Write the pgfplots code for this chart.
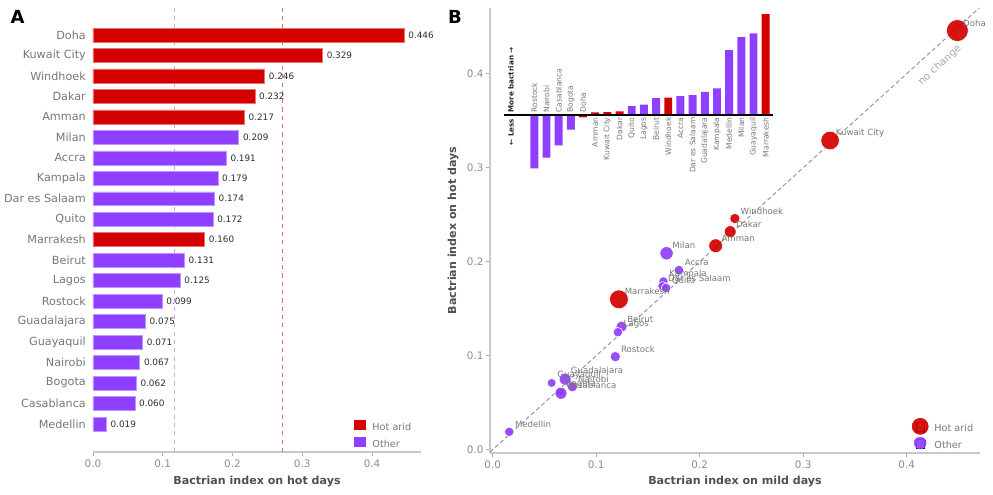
\documentclass[border=0pt]{standalone}
\usepackage{pgfplots}
\usepackage{pgfplotstable}
\pgfplotsset{compat=1.18}
\usepackage{fontspec}
\setmainfont{DejaVu Sans}

\definecolor{hotred}{RGB}{212,0,0}
\definecolor{otherpurple}{RGB}{143,63,255}
\definecolor{labelgray}{RGB}{119,119,119}
\definecolor{tickgray}{RGB}{140,140,140}
\definecolor{spinegray}{RGB}{200,200,200}
\definecolor{titlegray}{RGB}{80,80,80}
\definecolor{valuegray}{RGB}{45,45,45}
\definecolor{meanpurple}{RGB}{200,165,255}
\definecolor{meanred}{RGB}{225,110,110}
\definecolor{diaggray}{RGB}{150,150,150}

\pgfplotsset{/pgf/number format/assume math mode=true}

% ---- Panel A: index on hot days (position 19 = top row)
\pgfplotstableread{
pos hot
19 0.446
18 0.329
17 0.246
16 0.232
15 0.217
9  0.160
}\hotbars
\pgfplotstableread{
pos hot
14 0.209
13 0.191
12 0.179
11 0.174
10 0.172
8  0.131
7  0.125
6  0.099
5  0.075
4  0.071
3  0.067
2  0.062
1  0.060
0  0.019
}\otherbars

% ---- Panel B: mild vs hot days, marker radius r in bp
\pgfplotstableread{
name mild hot r
Doha 0.449 0.446 7.9
{Kuwait City} 0.326 0.329 6.7
Windhoek 0.234 0.246 3.7
Dakar 0.2295 0.232 4.3
Amman 0.2155 0.217 5.0
Marrakesh 0.122 0.160 6.8
}\hotpts
\pgfplotstableread{
name mild hot r
Milan 0.168 0.209 4.8
Accra 0.180 0.191 3.5
Kampala 0.165 0.179 3.4
{Dar es Salaam} 0.164 0.174 3.3
Quito 0.1675 0.172 3.5
Beirut 0.1245 0.131 4.0
Lagos 0.121 0.125 3.4
Rostock 0.1185 0.099 3.7
Guadalajara 0.070 0.075 4.3
Guayaquil 0.057 0.071 3.2
Nairobi 0.077 0.067 3.7
Bogota 0.065 0.062 3.4
Casablanca 0.066 0.060 4.3
Medellin 0.016 0.019 3.4
}\otherpts

% ---- Inset: change from mild to hot days, percent
\pgfplotstableread{
idx change
4 -0.7
5 0.8
6 0.9
7 1.1
11 5.3
19 30.9
}\hotchange
\pgfplotstableread{
idx change
0 -16.4
1 -13.1
2 -9.3
3 -4.5
8 2.7
9 3.2
10 5.2
12 5.8
13 6.1
14 7.1
15 8.2
16 19.9
17 23.9
18 25.0
}\otherchange
\pgfplotstableread{
idx zero name
0 0 Rostock
1 0 Nairobi
2 0 Casablanca
3 0 Bogota
4 0 Doha
}\fallnames
\pgfplotstableread{
idx zero name
5 0 Amman
6 0 {Kuwait City}
7 0 Dakar
8 0 Quito
9 0 Lagos
10 0 Beirut
11 0 Windhoek
12 0 Accra
13 0 {Dar es Salaam}
14 0 Guadalajara
15 0 Kampala
16 0 Medellin
17 0 Milan
18 0 Guayaquil
19 0 Marrakesh
}\risenames

\pgfplotsset{
  panel/.style={
    scale only axis, anchor=south west,
    axis x line*=bottom, axis y line*=left,
    axis line style={draw=spinegray, line width=0.8bp},
    tick align=outside, major tick length=3bp,
    tick style={draw=spinegray!85!black, line width=0.6bp},
    tick label style={font=\fontsize{7.5}{9}\selectfont, text=tickgray},
    label style={font=\fontsize{8}{10}\selectfont\bfseries, text=titlegray},
    legend cell align=left,
  },
  citymarks/.style={scatter, only marks, mark=*, forget plot,
    scatter/use mapped color={draw=white, fill=#1, fill opacity=0.92},
    visualization depends on={\thisrow{r} \as \rad},
    scatter/@pre marker code/.append style={/tikz/mark size=\rad, /tikz/line width=0.5bp}},
  citynames/.style={only marks, mark=none, forget plot,
    point meta=explicit symbolic, nodes near coords,
    nodes near coords style={anchor=west, inner sep=0pt, xshift=4bp, yshift=5.5bp,
      font=\fontsize{6.2}{8}\selectfont, text=labelgray}},
}

\begin{document}
\begin{tikzpicture}
\useasboundingbox (0,0) rectangle (715bp,356.4bp);

% ================= Panel A =================
\begin{axis}[panel,
  at={(66.96bp,30.96bp)}, width=236.2bp, height=319.7bp,
  xmin=0, xmax=0.4703, ymin=-1.368, ymax=20.32,
  y axis line style={draw=none},
  ytick style={draw=none},
  xtick={0,0.1,0.2,0.3,0.4},
  xticklabel={\pgfmathprintnumber[fixed,zerofill,precision=1]{\tick}},
  xticklabel style={inner sep=0pt, yshift=-2.2bp},
  ytick={0,...,19},
  yticklabels={Medellin,Casablanca,Bogota,Nairobi,Guayaquil,Guadalajara,Rostock,Lagos,Beirut,Marrakesh,Quito,Dar es Salaam,Kampala,Accra,Milan,Amman,Dakar,Windhoek,Kuwait City,Doha},
  yticklabel style={font=\fontsize{8.1}{10}\selectfont, text=labelgray, inner sep=0pt, xshift=-2bp},
  xlabel={Bactrian index on hot days},
  xlabel style={at={(axis description cs:0.5,-0.0654)}, anchor=center},
  legend style={at={(0.7955,0.0725)}, anchor=north west, draw=none, fill=none,
    inner sep=0pt, outer sep=0pt, row sep=3.6bp, column sep=5bp,
    font=\fontsize{7}{8}\selectfont, text=labelgray,
    nodes={inner sep=0pt, text height=5bp, text depth=1.5bp}},
]
% group means
\addplot[meanpurple, dashed, line width=0.8bp, forget plot] coordinates {(0.1167,-1.368) (0.1167,20.32)};
\addplot[meanred, dashed, line width=0.8bp, forget plot] coordinates {(0.2717,-1.368) (0.2717,20.32)};
\addplot[xbar, bar width=0.68, bar shift=0pt, fill=hotred, draw=hotred!55!white, line width=0.4bp, forget plot,
  point meta=x, nodes near coords={\pgfmathprintnumber[fixed,zerofill,precision=3]{\pgfplotspointmeta}},
  nodes near coords style={anchor=west, inner sep=0pt, xshift=2.9bp, font=\fontsize{6.4}{8}\selectfont, text=valuegray}]
  table[x=hot, y=pos] {\hotbars};
\addplot[xbar, bar width=0.68, bar shift=0pt, fill=otherpurple, draw=otherpurple!55!white, line width=0.4bp, forget plot,
  point meta=x, nodes near coords={\pgfmathprintnumber[fixed,zerofill,precision=3]{\pgfplotspointmeta}},
  nodes near coords style={anchor=west, inner sep=0pt, xshift=2.9bp, font=\fontsize{6.4}{8}\selectfont, text=valuegray}]
  table[x=hot, y=pos] {\otherbars};
\addlegendimage{legend image code/.code={\fill[hotred] (0bp,-0.8bp) rectangle (7.9bp,5.5bp);}}
\addlegendentry{Hot arid}
\addlegendimage{legend image code/.code={\fill[otherpurple] (0bp,-0.8bp) rectangle (7.9bp,5.5bp);}}
\addlegendentry{Other}
\end{axis}

% ================= Panel B =================
\begin{axis}[panel,
  at={(352.8bp,30.24bp)}, width=352.8bp, height=320.4bp,
  xmin=-0.0026, xmax=0.4708, ymin=-0.0035, ymax=0.470,
  xtick={0,0.1,0.2,0.3,0.4}, ytick={0,0.1,0.2,0.3,0.4},
  xticklabel={\pgfmathprintnumber[fixed,zerofill,precision=1]{\tick}},
  yticklabel={\pgfmathprintnumber[fixed,zerofill,precision=1]{\tick}},
  xticklabel style={inner sep=0pt, yshift=-2.2bp},
  yticklabel style={inner sep=0pt, xshift=-1.5bp},
  xlabel={Bactrian index on mild days},
  ylabel={Bactrian index on hot days},
  xlabel style={at={(axis description cs:0.5,-0.0646)}, anchor=center},
  ylabel style={at={(axis description cs:-0.0754,0.5)}, anchor=center},
  clip=false,
  legend style={at={(0.869,0.0689)}, anchor=north west, draw=none, fill=none,
    inner sep=0pt, outer sep=0pt, row sep=3.6bp, column sep=7bp,
    font=\fontsize{7}{8}\selectfont, text=labelgray,
    nodes={inner sep=0pt, text height=5bp, text depth=1.5bp}},
]
% no-change diagonal
\addplot[diaggray, dash pattern=on 3bp off 2bp, line width=0.7bp, forget plot] coordinates {(-0.0026,-0.0026) (0.47,0.47)};
\node[rotate=42.3, text=black!35, font=\fontsize{7.4}{9}\selectfont] at (axis cs:0.432,0.409) {no change};
\addplot[citymarks=otherpurple] table[x=mild, y=hot] {\otherpts};
\addplot[citymarks=hotred] table[x=mild, y=hot] {\hotpts};
\addplot[citynames] table[x=mild, y=hot, meta=name] {\otherpts};
\addplot[citynames] table[x=mild, y=hot, meta=name] {\hotpts};
\addlegendimage{legend image code/.code={\path (0bp,-1.5bp) rectangle (6bp,5bp); \fill[hotred, opacity=0.92, overlay] (3bp,2.3bp) circle (5.8bp);}}
\addlegendentry{Hot arid}
\addlegendimage{legend image code/.code={\path (0bp,-1.5bp) rectangle (6bp,5bp); \fill[otherpurple, opacity=0.92, overlay] (3bp,2.3bp) circle (4.3bp);}}
\addlegendentry{Other}
\end{axis}

% ================= Inset in panel B =================
\begin{axis}[
  at={(362.8bp,233.9bp)}, anchor=south west, scale only axis,
  width=194.65bp, height=115.3bp,
  xmin=-2.5, xmax=19.7, ymin=-16.9, ymax=32.2,
  hide axis, clip=false,
]
\addplot[ybar, bar width=0.65, bar shift=0pt, fill=otherpurple, draw=none] table[x=idx, y=change] {\otherchange};
\addplot[ybar, bar width=0.65, bar shift=0pt, fill=hotred, draw=none] table[x=idx, y=change] {\hotchange};
\draw[black, line width=1.4bp] (axis cs:-2.45,0) -- (axis cs:19.6,0);
% city names: above the line for decreases, below for increases
\addplot[only marks, mark=none, point meta=explicit symbolic, nodes near coords,
  nodes near coords style={rotate=90, anchor=west, inner sep=1.6bp, font=\fontsize{5.5}{7}\selectfont, text=labelgray}]
  table[x=idx, y=zero, meta=name] {\fallnames};
\addplot[only marks, mark=none, point meta=explicit symbolic, nodes near coords,
  nodes near coords style={rotate=90, anchor=east, inner sep=1.6bp, font=\fontsize{5.5}{7}\selectfont, text=labelgray}]
  table[x=idx, y=zero, meta=name] {\risenames};
\node[rotate=90, anchor=west, inner sep=0pt, font=\fontsize{5.2}{7}\selectfont\bfseries, text=black!85] at (axis cs:-1.91,0.7) {More bactrian →};
\node[rotate=90, anchor=east, inner sep=0pt, font=\fontsize{5.2}{7}\selectfont\bfseries, text=black!85] at (axis cs:-1.91,-1.1) {← Less};
\end{axis}

% panel letters
\node[font=\fontsize{13}{15}\selectfont\bfseries] at (12.6bp,344.5bp) {A};
\node[font=\fontsize{13}{15}\selectfont\bfseries] at (327.6bp,344.5bp) {B};
\end{tikzpicture}
\end{document}
